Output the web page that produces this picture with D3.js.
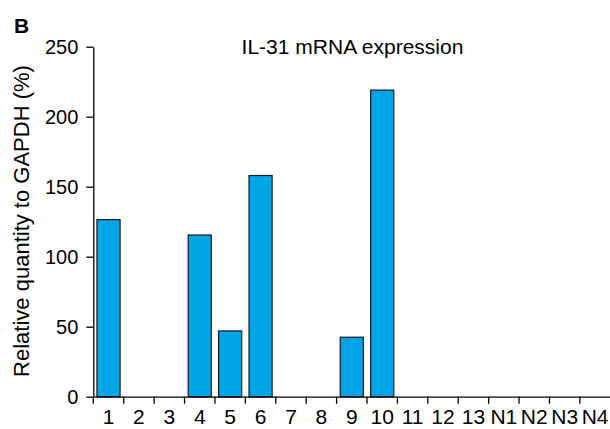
<!DOCTYPE html>
<html>
<head>
<meta charset="utf-8">
<script src="https://cdn.jsdelivr.net/npm/d3@7"></script>
<style>
  body { margin: 0; background: #fff; }
  svg { display: block; font-family: "Liberation Sans", Arial, sans-serif; }
</style>
</head>
<body>
<div id="chart"></div>
<script>
const categories = ["1", "2", "3", "4", "5", "6", "7", "8", "9", "10", "11", "12", "13", "N1", "N2", "N3", "N4"];
const values = [126.5, 0, 0, 115.5, 47, 158, 0, 0, 42.5, 219, 0, 0, 0, 0, 0, 0, 0];
const yTicks = [0, 50, 100, 150, 200, 250];

const width = 610, height = 429;
const plot = { left: 93.3, right: 610.3, top: 46.7, bottom: 396.7 };

const svg = d3.select("#chart")
  .append("svg")
  .attr("width", width)
  .attr("height", height);

const x = d3.scaleBand()
  .domain(categories)
  .range([plot.left, plot.right])
  .paddingInner(0.24)
  .paddingOuter(0.12);

const y = d3.scaleLinear()
  .domain([0, 250])
  .range([plot.bottom, plot.top]);

// Bars
svg.selectAll("rect.bar")
  .data(values.map((v, i) => ({ cat: categories[i], v })).filter(d => d.v > 0))
  .enter().append("rect")
  .attr("class", "bar")
  .attr("x", d => x(d.cat))
  .attr("y", d => y(d.v))
  .attr("width", x.bandwidth())
  .attr("height", d => y(0) - y(d.v))
  .attr("fill", "#00a5e8")
  .attr("stroke", "#1a1a1a")
  .attr("stroke-width", 1.2);

// Y axis
const yAxis = svg.append("g")
  .attr("transform", `translate(${plot.left},0)`)
  .call(d3.axisLeft(y).tickValues(yTicks).tickSize(7).tickSizeOuter(0).tickPadding(8));
yAxis.selectAll("text").attr("font-size", "20px").attr("fill", "#000");
yAxis.selectAll("path, line").attr("stroke", "#000").attr("stroke-width", 1.3);

// X axis: ticks sit on the band boundaries
const xAxis = svg.append("g")
  .attr("transform", `translate(0,${plot.bottom})`)
  .call(d3.axisBottom(x).tickSize(7).tickSizeOuter(0));
xAxis.selectAll(".tick line")
  .attr("x1", -x.step() / 2)
  .attr("x2", -x.step() / 2);
xAxis.selectAll("text")
  .attr("font-size", "21px")
  .attr("fill", "#000")
  .attr("y", 424.5 - plot.bottom)
  .attr("dy", null);
xAxis.selectAll("path, line").attr("stroke", "#000").attr("stroke-width", 1.3);

// Y axis label
svg.append("text")
  .attr("text-anchor", "middle")
  .attr("transform", "rotate(-90)")
  .attr("x", -221)
  .attr("y", 28.5)
  .attr("font-size", "22px")
  .text("Relative quantity to GAPDH (%)");

// Title
svg.append("text")
  .attr("text-anchor", "middle")
  .attr("x", 352.5)
  .attr("y", 53.5)
  .attr("font-size", "21px")
  .text("IL-31 mRNA expression");

// Panel letter
svg.append("text")
  .attr("x", 14)
  .attr("y", 33)
  .attr("font-size", "21px")
  .attr("font-weight", "bold")
  .text("B");
</script>
</body>
</html>
